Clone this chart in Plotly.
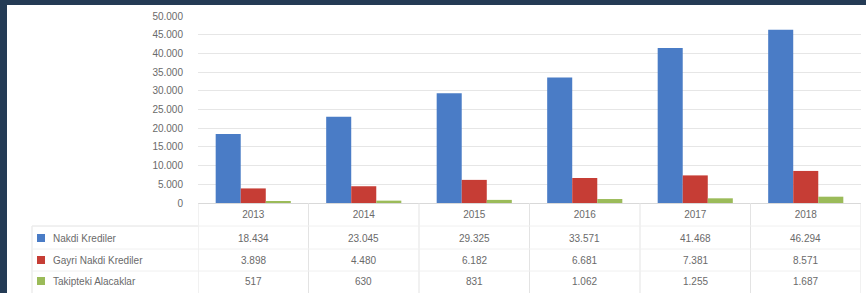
import plotly.graph_objects as go

years = ["2013", "2014", "2015", "2016", "2017", "2018"]
series_names = ["Nakdi Krediler", "Gayri Nakdi Krediler", "Takipteki Alacaklar"]
nakdi = [18434, 23045, 29325, 33571, 41468, 46294]
gayri = [3898, 4480, 6182, 6681, 7381, 8571]
takip = [517, 630, 831, 1062, 1255, 1687]
y_ticks = [0, 5000, 10000, 15000, 20000, 25000, 30000, 35000, 40000, 45000, 50000]

colors = ["#4a7cc6", "#c63d35", "#9bbb59"]
series = [nakdi, gayri, takip]

W, H = 866, 293
def py(p):  # pixel y -> paper
    return (H - p) / H
def px(p):
    return p / W

x0p, x1p = 198, 861
y_zero, y_top = 203, 16

fig = go.Figure()
for name, vals, c in zip(series_names, series, colors):
    fig.add_trace(go.Bar(x=years, y=vals, name=name, marker=dict(color=c, line=dict(width=0)),
                         showlegend=False))

font_fam = "Liberation Sans, Arial, sans-serif"
gray = "#6a6a6a"

shapes = []
# white panel inside dark frame
shapes.append(dict(type="rect", xref="paper", yref="paper", x0=px(7), x1=1.0, y0=0, y1=py(5),
                   fillcolor="white", line=dict(width=0), layer="below"))
# table vertical lines
line_col = "#e3e3e3"
for i in range(len(years) + 1):
    shapes.append(dict(type="line", xref="x", yref="paper", x0=i - 0.5, x1=i - 0.5,
                       y0=0, y1=py(y_zero), line=dict(color=line_col, width=1)))
# legend column box
shapes.append(dict(type="line", xref="paper", yref="paper", x0=px(32), x1=px(32),
                   y0=0, y1=py(226), line=dict(color=line_col, width=1)))
shapes.append(dict(type="line", xref="paper", yref="paper", x0=px(32), x1=px(x0p),
                   y0=py(226), y1=py(226), line=dict(color=line_col, width=1)))
# faint horizontal row lines
for yy in [226, 249, 271]:
    shapes.append(dict(type="line", xref="paper", yref="paper", x0=px(32), x1=px(x1p),
                       y0=py(yy), y1=py(yy), line=dict(color="#f0f0f0", width=1)))

annotations = []
row_y = [238, 260, 281]
for name, vals, c, ry in zip(series_names, series, colors, row_y):
    shapes.append(dict(type="rect", xref="paper", yref="paper", x0=px(37), x1=px(45),
                       y0=py(ry + 4), y1=py(ry - 4), fillcolor=c, line=dict(width=0)))
    annotations.append(dict(xref="paper", yref="paper", x=px(51), y=py(ry), text=name,
                            showarrow=False, xanchor="left", yanchor="middle",
                            font=dict(family=font_fam, size=10, color=gray)))
    for i, v in enumerate(vals):
        annotations.append(dict(xref="x", yref="paper", x=i, y=py(ry),
                                text=f"{v:,}".replace(",", "."), showarrow=False,
                                xanchor="center", yanchor="middle",
                                font=dict(family=font_fam, size=10, color=gray)))

fig.update_layout(
    width=W, height=H,
    margin=dict(l=0, r=0, t=0, b=0, autoexpand=False),
    paper_bgcolor="#243b55",
    plot_bgcolor="rgba(0,0,0,0)",
    separators=",.",
    barmode="group",
    bargap=0.32,
    bargroupgap=0,
    shapes=shapes,
    annotations=annotations,
    xaxis=dict(domain=[px(x0p), px(x1p)], type="category", range=[-0.5, 5.5],
               showline=True, linecolor="#d9d9d9", linewidth=1, ticks="", showgrid=False,
               tickfont=dict(family=font_fam, size=10, color=gray), ticklabelstandoff=2),
    yaxis=dict(domain=[py(y_zero), py(y_top)], range=[0, 50000], tickvals=y_ticks,
               tickformat=",d", showgrid=True, gridcolor="#e6e6e6", gridwidth=1,
               zeroline=False, showline=False, ticks="",
               tickfont=dict(family=font_fam, size=10, color=gray), ticklabelstandoff=14),
)

fig.write_html("out.html", config={"displayModeBar": False},
               post_script="document.body.style.margin='0';document.body.style.overflow='hidden';")
